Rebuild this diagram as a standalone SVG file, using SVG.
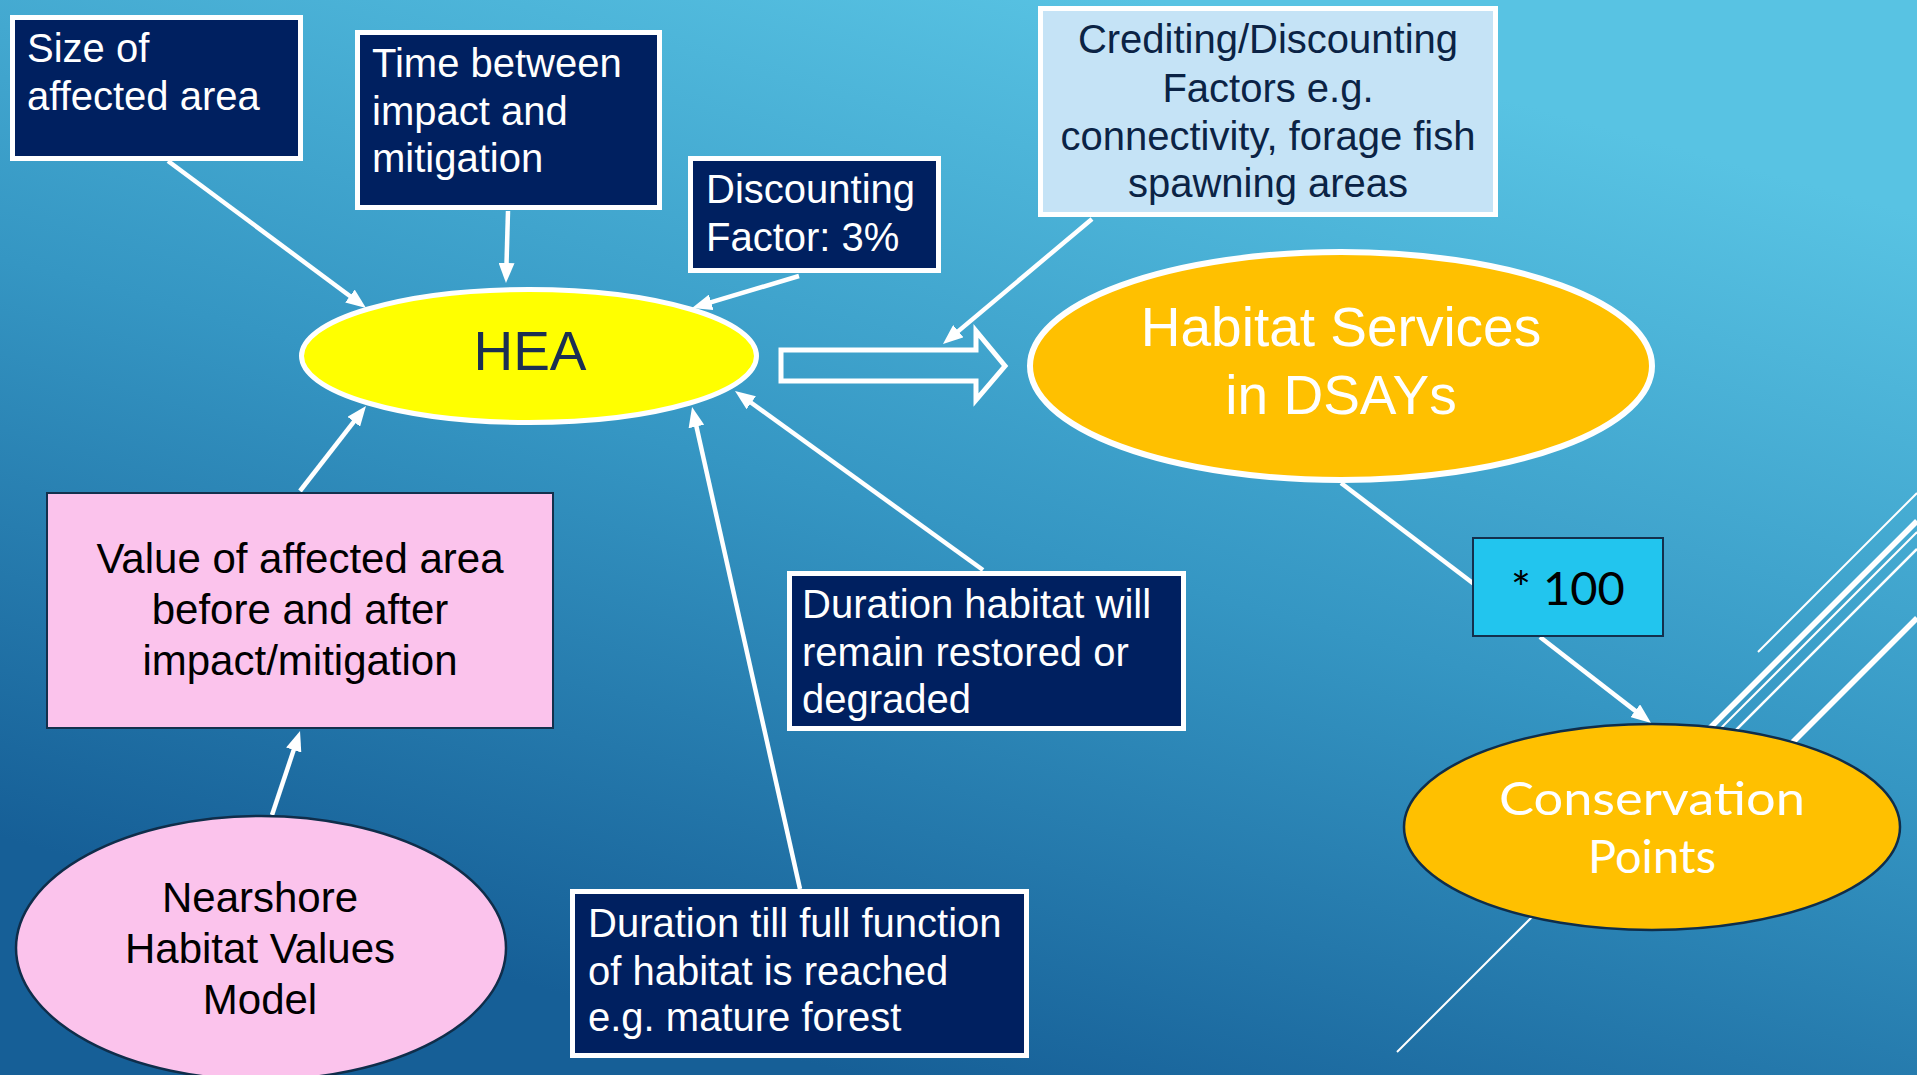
<svg xmlns="http://www.w3.org/2000/svg" width="1917" height="1075" viewBox="0 0 1917 1075">
<defs>
<linearGradient id="bg" gradientUnits="userSpaceOnUse" x1="1150" y1="0" x2="850" y2="1075">
<stop offset="0" stop-color="#58c3e3"/>
<stop offset="0.5" stop-color="#3596c3"/>
<stop offset="1" stop-color="#165f97"/>
</linearGradient>
<marker id="ah" viewBox="0 0 20 16" refX="12" refY="8" markerWidth="20" markerHeight="16" orient="auto" markerUnits="userSpaceOnUse">
<path d="M0,0 L20,8 L0,16 z" fill="#ffffff"/>
</marker>
<style>
.navy{fill:#002060;stroke:#ffffff;stroke-width:5}
.wt{font-family:"Liberation Sans",Arial,sans-serif;font-size:40px;fill:#ffffff}
.dk{font-family:"Liberation Sans",Arial,sans-serif;font-size:40px;fill:#0b2345}
.bk{font-family:"Liberation Sans",Arial,sans-serif;font-size:42px;fill:#000000}
.big{font-family:"Liberation Sans",Arial,sans-serif;font-size:55px}
.cg{font-family:Lato,"DejaVu Sans",sans-serif;font-size:47px}
.conn line{stroke:#ffffff;stroke-width:4.5;fill:none}
.deco line{stroke:#ffffff}
</style>
</defs>
<rect x="0" y="0" width="1917" height="1075" fill="url(#bg)"/>

<g class="deco">
<line x1="1758" y1="652" x2="1917" y2="493" stroke-width="2"/>
<line x1="1690" y1="748" x2="1917" y2="521" stroke-width="5.5"/>
<line x1="1397" y1="1052" x2="1917" y2="532" stroke-width="2"/>
<line x1="1710" y1="756" x2="1917" y2="549" stroke-width="2.5"/>
<line x1="1770" y1="765" x2="1917" y2="618" stroke-width="5.5"/>
</g>

<g class="conn">
<line x1="168" y1="161" x2="359.6" y2="303.2" marker-end="url(#ah)"/>
<line x1="508" y1="211" x2="506.2" y2="275" marker-end="url(#ah)"/>
<line x1="799" y1="276" x2="699.7" y2="305.7" marker-end="url(#ah)"/>
<line x1="1092" y1="219" x2="949.1" y2="338.9" marker-end="url(#ah)"/>
<line x1="300" y1="491" x2="361.1" y2="412.3" marker-end="url(#ah)"/>
<line x1="272" y1="815" x2="297.5" y2="738.6" marker-end="url(#ah)"/>
<line x1="800" y1="889" x2="693.8" y2="414.8" marker-end="url(#ah)"/>
<line x1="983" y1="570" x2="741.5" y2="395.7" marker-end="url(#ah)"/>
<line x1="1341" y1="483" x2="1474" y2="584"/>
<line x1="1540" y1="637" x2="1644.7" y2="718.1" marker-end="url(#ah)"/>
<polygon points="781,350 976,350 976,331 1005,366 976,400 976,381 781,381" fill="none" stroke="#ffffff" stroke-width="5"/>
</g>

<g id="size-area">
<rect class="navy" x="12.5" y="17.5" width="288" height="141"/>
<text class="wt" x="27" y="62">Size of</text>
<text class="wt" x="27" y="110">affected area</text>
</g>

<g id="time-between">
<rect class="navy" x="357.5" y="32.5" width="302" height="175"/>
<text class="wt" x="372" y="77">Time between</text>
<text class="wt" x="372" y="125">impact and</text>
<text class="wt" x="372" y="172">mitigation</text>
</g>

<g id="discounting">
<rect class="navy" x="690.5" y="158.5" width="248" height="112"/>
<text class="wt" x="706" y="203">Discounting</text>
<text class="wt" x="706" y="251">Factor: 3%</text>
</g>

<g id="crediting">
<rect x="1040.5" y="8.5" width="455" height="206" fill="#c5e3f6" stroke="#ffffff" stroke-width="5"/>
<text class="dk" x="1268" y="53" text-anchor="middle">Crediting/Discounting</text>
<text class="dk" x="1268" y="102" text-anchor="middle">Factors e.g.</text>
<text class="dk" x="1268" y="150" text-anchor="middle">connectivity, forage fish</text>
<text class="dk" x="1268" y="197" text-anchor="middle">spawning areas</text>
</g>

<g id="hea">
<ellipse cx="529" cy="356" rx="227.5" ry="66.5" fill="#ffff00" stroke="#ffffff" stroke-width="5"/>
<text class="big" x="530" y="370" text-anchor="middle" fill="#1b2f52">HEA</text>
</g>

<g id="habitat-services">
<ellipse cx="1341" cy="366" rx="311" ry="114" fill="#ffc000" stroke="#ffffff" stroke-width="6"/>
<text class="big" x="1341" y="346" text-anchor="middle" fill="#ffffff">Habitat Services</text>
<text class="big" x="1341" y="414" text-anchor="middle" fill="#ffffff">in DSAYs</text>
</g>

<g id="value-area">
<rect x="47" y="493" width="506" height="235" fill="#fbc3ec" stroke="#13304d" stroke-width="2"/>
<text class="bk" x="300" y="573" text-anchor="middle">Value of affected area</text>
<text class="bk" x="300" y="624" text-anchor="middle">before and after</text>
<text class="bk" x="300" y="675" text-anchor="middle">impact/mitigation</text>
</g>

<g id="nearshore">
<ellipse cx="261" cy="948" rx="245" ry="132" fill="#fbc3ec" stroke="#0f2d4a" stroke-width="2.5"/>
<text class="bk" x="260" y="912" text-anchor="middle">Nearshore</text>
<text class="bk" x="260" y="963" text-anchor="middle">Habitat Values</text>
<text class="bk" x="260" y="1014" text-anchor="middle">Model</text>
</g>

<g id="duration-remain">
<rect class="navy" x="789.5" y="573.5" width="394" height="155"/>
<text class="wt" x="802" y="618">Duration habitat will</text>
<text class="wt" x="802" y="666">remain restored or</text>
<text class="wt" x="802" y="713">degraded</text>
</g>

<g id="duration-full">
<rect class="navy" x="572.5" y="891.5" width="454" height="164"/>
<text class="wt" x="588" y="937">Duration till full function</text>
<text class="wt" x="588" y="985">of habitat is reached</text>
<text class="wt" x="588" y="1031">e.g. mature forest</text>
</g>

<g id="times-100">
<rect x="1473" y="538" width="190" height="98" fill="#22c5ee" stroke="#13304d" stroke-width="2"/>
<text class="cg" x="1568" y="605" text-anchor="middle" fill="#000000">* 100</text>
</g>

<g id="conservation-points">
<ellipse cx="1652" cy="827" rx="248" ry="103" fill="#ffc000" stroke="#0f2d4a" stroke-width="2.5"/>
<text class="cg" x="1652" y="815" text-anchor="middle" fill="#ffffff" textLength="306" lengthAdjust="spacingAndGlyphs">Conservation</text>
<text class="cg" x="1652" y="873" text-anchor="middle" fill="#ffffff">Points</text>
</g>
</svg>
